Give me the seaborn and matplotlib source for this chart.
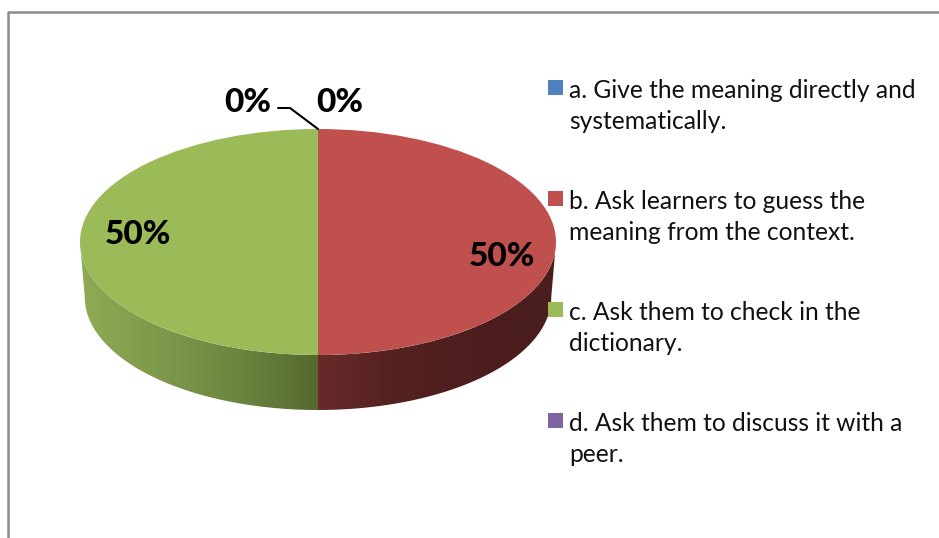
import numpy as np
import seaborn as sns
import matplotlib.pyplot as plt
from matplotlib.patches import Polygon, Rectangle

labels = ['a. Give the meaning directly and\nsystematically.',
          'b. Ask learners to guess the\nmeaning from the context.',
          'c. Ask them to check in the\ndictionary.',
          'd. Ask them to discuss it with a\npeer.']
values = [0, 50, 50, 0]
pct_labels = ['0%', '50%', '50%', '0%']
colors = ['#4f81bd', '#c0504d', '#9bbb59', '#8064a2']

sns.set_theme(style='white')
plt.rcParams['font.family'] = ['Lato', 'DejaVu Sans']

W, H = 939, 538
fig = plt.figure(figsize=(W / 100, H / 100), dpi=100, facecolor='white')

# overlay in pixel coords for frame, legend and text
ax = fig.add_axes([0, 0, 1, 1], zorder=2)
ax.set_xlim(0, W)
ax.set_ylim(H, 0)
ax.axis('off')
ax.patch.set_alpha(0)

# pie axes, squashed to an ellipse
left, right, top, rim, bottom = 80, 556, 129, 355, 410
depth = 2 * (bottom - rim) / (rim - top)
pax = fig.add_axes([left / W, 1 - bottom / H, (right - left) / W, (bottom - top) / H], zorder=1)
wedges, _ = pax.pie(values, colors=colors, startangle=90, counterclock=False, radius=1,
                    wedgeprops={'linewidth': 0})
pax.set_aspect('auto')
for w in wedges:
    w.set_zorder(5)


def side_wall(start, end, shades):
    # gradient side of the cake, bottom arc a bit narrower for the perspective
    t = np.radians(np.linspace(start, end, 200))
    x, y = np.cos(t), np.sin(t)
    pts = np.r_[np.c_[x, y], np.c_[x[::-1] * 0.98, y[::-1] - depth]]
    cmap = sns.blend_palette(shades, as_cmap=True)
    grad = np.linspace(0, 1, 256).reshape(1, -1)
    im = pax.imshow(grad, cmap=cmap, aspect='auto', zorder=1,
                    extent=[x.min(), x.max(), -1 - depth, 0])
    patch = Polygon(pts, transform=pax.transData, facecolor='none', edgecolor='none')
    pax.add_patch(patch)
    im.set_clip_path(patch)


side_wall(180, 270, ['#8fab55', '#7f994c', '#6c853f', '#55692e'])
side_wall(270, 360, ['#682b2a', '#532120', '#4c1e1d', '#4a1e1d'])
pax.set_xlim(-1, 1)
pax.set_ylim(-1 - depth, 1)

# chart frame
ax.plot([7.5, 7.5, W], [H, 11.5, 11.5], color='#8c8c8c', lw=1.8, solid_capstyle='butt')

# data labels
label_pos = [(340, 103), (502, 257), (138, 234), (248, 102)]
for txt, (x, y) in zip(pct_labels, label_pos):
    ax.text(x, y, txt, ha='center', va='center', fontsize=24, fontweight=900, color='black')
ax.plot([278, 290, 318], [108, 108, 129], color='black', lw=1.5)

# legend
for i, (lab, c) in enumerate(zip(labels, colors)):
    y0 = 88 + i * 111
    ax.add_patch(Rectangle((548, y0 - 8), 15, 15, facecolor=c, edgecolor='none'))
    ax.text(569, y0 + 41, lab, ha='left', va='baseline', fontsize=17.7, color='#111111',
            linespacing=1.44)

fig.savefig('out.png', dpi=100)
